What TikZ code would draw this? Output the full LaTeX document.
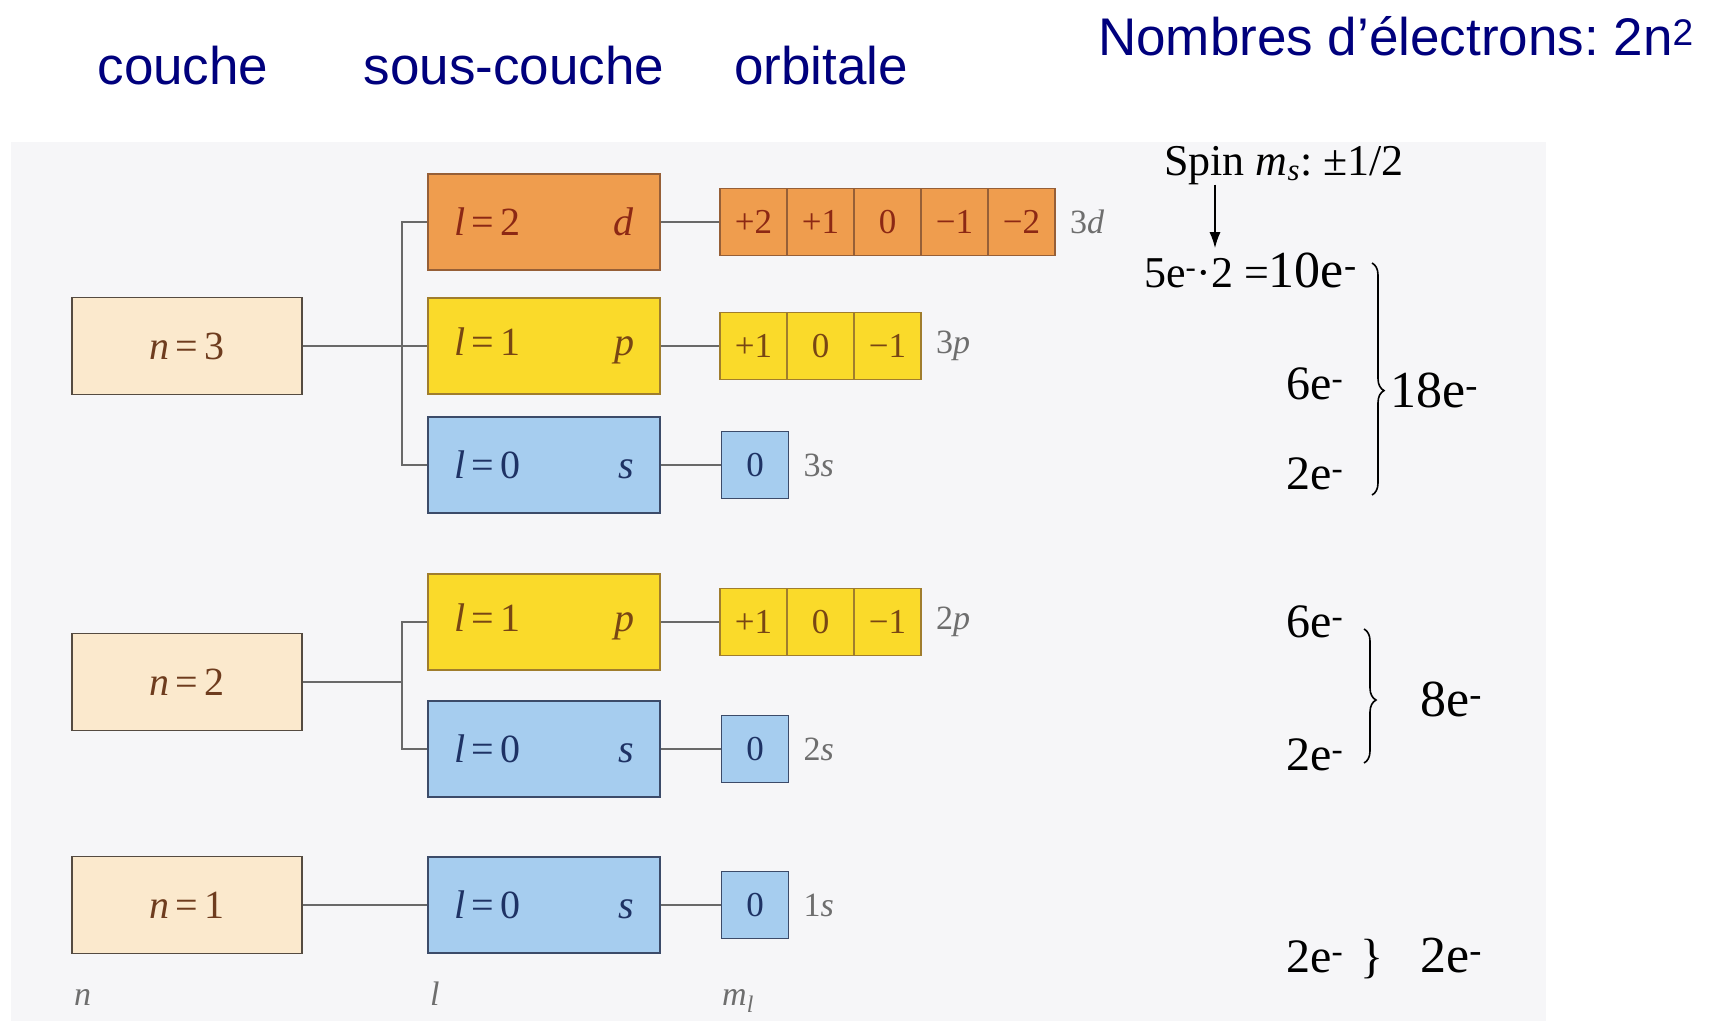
\documentclass[tikz,border=0pt]{standalone}
\usepackage{fontspec}
\setmainfont{Liberation Serif}
\newfontfamily\headfont{Liberation Sans}
\usetikzlibrary{arrows.meta, positioning, decorations.pathreplacing}
\frenchspacing
\definecolor{headblue}{RGB}{0,0,125}
\definecolor{paper}{RGB}{246,246,248}
\definecolor{shellfill}{RGB}{251,233,205}
\definecolor{shellline}{RGB}{85,75,65}
\definecolor{shelltext}{RGB}{110,60,30}
\definecolor{dfill}{RGB}{239,157,78}
\definecolor{dline}{RGB}{150,95,55}
\definecolor{dtext}{RGB}{140,40,20}
\definecolor{pfill}{RGB}{250,218,42}
\definecolor{pline}{RGB}{160,125,45}
\definecolor{ptext}{RGB}{120,70,20}
\definecolor{sfill}{RGB}{166,205,239}
\definecolor{sline}{RGB}{60,75,105}
\definecolor{stext}{RGB}{30,50,100}
\definecolor{linkgray}{RGB}{105,105,105}
\definecolor{taggray}{RGB}{110,110,110}
\newcommand{\subtxt}[2]{\makebox[180pt]{\textit{l}\,=\,#1\hfill\textit{#2}}}
\newcommand{\elec}{e\textsuperscript{-}}
\tikzset{
  qn shell/.style={
    rectangle, draw=shellline, fill=shellfill, line width=1.6pt,
    minimum width=230pt, minimum height=97pt, inner sep=0pt,
    text=shelltext, font=\fontsize{40}{46}\selectfont
  },
  qn sub/.style={
    rectangle, line width=1.6pt, minimum width=232pt, minimum height=96pt,
    inner sep=0pt, font=\fontsize{40}{46}\selectfont
  },
  qn cell/.style={
    rectangle, line width=1.6pt, minimum width=67pt, minimum height=67pt,
    inner sep=0pt, font=\fontsize{35}{40}\selectfont
  },
  qn d/.style={draw=dline, fill=dfill, text=dtext},
  qn p/.style={draw=pline, fill=pfill, text=ptext},
  qn s/.style={draw=sline, fill=sfill, text=stext},
  qn link/.style={draw=linkgray, line width=1.8pt},
  qn tag/.style={
    text=taggray, font=\fontsize{34}{38}\selectfont, inner sep=0pt
  },
  qn head/.style={
    text=headblue, font=\headfont\fontsize{53}{60}\selectfont, inner sep=0pt
  },
  qn count/.style={
    font=\fontsize{48}{54}\selectfont, inner sep=0pt, anchor=base west
  },
  qn total/.style={
    font=\fontsize{52}{58}\selectfont, inner sep=0pt, anchor=base west
  },
  qn brace/.style={
    decorate, decoration={brace, amplitude=12pt, aspect=#1}, line width=1.6pt
  },
  qn arrow/.style={
    -{Latex[length=16pt, width=11pt]}, line width=1.6pt
  }
}

\begin{document}
\begin{tikzpicture}[x=1pt, y=-1pt, node distance=14pt]
  \useasboundingbox (0,0) rectangle (1716,1021);
  \fill[white] (0,0) rectangle (1716,1021);
  \fill[paper] (11,142) rectangle (1546,1021);

  % en-tetes
  \node[qn head, anchor=base] (hcouche) at (183,84) {couche};
  \node[qn head, anchor=base] (hsous) at (514,84) {sous-couche};
  \node[qn head, anchor=base] (horb) at (821,84) {orbitale};
  \node[qn head, anchor=base east] (hnb) at (1694,55) {Nombres d’électrons: 2n\textsuperscript{2}};

  % couches
  \node[qn shell] (n3) at (187,346) {\textit{n}\,=\,3};
  \node[qn shell] (n2) at (187,682) {\textit{n}\,=\,2};
  \node[qn shell] (n1) at (187,905) {\textit{n}\,=\,1};

  % sous-couches
  \node[qn sub, qn d] (l32) at (544,222) {\subtxt{2}{d}};
  \node[qn sub, qn p] (l31) at (544,346) {\subtxt{1}{p}};
  \node[qn sub, qn s] (l30) at (544,465) {\subtxt{0}{s}};
  \node[qn sub, qn p] (l21) at (544,622) {\subtxt{1}{p}};
  \node[qn sub, qn s] (l20) at (544,749) {\subtxt{0}{s}};
  \node[qn sub, qn s] (l10) at (544,905) {\subtxt{0}{s}};

  % orbitales
  \foreach \v [count=\i] in {+2,+1,0,−1,−2}
    \node[qn cell, qn d] (o3d\i) at ({720+67*\i-33.5},222) {\v};
  \foreach \v [count=\i] in {+1,0,−1}
    \node[qn cell, qn p] (o3p\i) at ({720+67*\i-33.5},346) {\v};
  \node[qn cell, qn s] (o3s1) at (755,465) {0};
  \foreach \v [count=\i] in {+1,0,−1}
    \node[qn cell, qn p] (o2p\i) at ({720+67*\i-33.5},622) {\v};
  \node[qn cell, qn s] (o2s1) at (755,749) {0};
  \node[qn cell, qn s] (o1s1) at (755,905) {0};

  \node[qn tag, right=of o3d5] (t3d) {3\textit{d}};
  \node[qn tag, right=of o3p3] (t3p) {3\textit{p}};
  \node[qn tag, right=of o3s1] (t3s) {3\textit{s}};
  \node[qn tag, right=of o2p3] (t2p) {2\textit{p}};
  \node[qn tag, right=of o2s1] (t2s) {2\textit{s}};
  \node[qn tag, right=of o1s1] (t1s) {1\textit{s}};

  \node[qn tag, anchor=base west] (vn) at (74,1005) {\textit{n}};
  \node[qn tag, anchor=base west] (vl) at (430,1005) {\textit{l}};
  \node[qn tag, anchor=base west] (vm) at (722,1005) {\textit{m}\textsubscript{\textit{l}}};

  % liaisons
  \coordinate (j3) at (402,346);
  \coordinate (j2) at (402,682);
  \draw[qn link] (n3) -- (l31);
  \draw[qn link] (l32.west) -- (l32.west -| j3) -- (l30.west -| j3) -- (l30.west);
  \draw[qn link] (n2) -- (j2);
  \draw[qn link] (l21.west) -- (l21.west -| j2) -- (l20.west -| j2) -- (l20.west);
  \draw[qn link] (n1) -- (l10);
  \draw[qn link] (l32) -- (o3d1);
  \draw[qn link] (l31) -- (o3p1);
  \draw[qn link] (l30) -- (o3s1);
  \draw[qn link] (l21) -- (o2p1);
  \draw[qn link] (l20) -- (o2s1);
  \draw[qn link] (l10) -- (o1s1);

  % nombres d'electrons
  \node[font=\fontsize{44}{50}\selectfont, inner sep=0pt, anchor=base] (spin) at (1284,175) {Spin \textit{m}\textsubscript{\textit{s}}: ±1/2};
  \node[inner sep=0pt, anchor=base west] (e3d) at (1144,287) {\fontsize{44}{50}\selectfont 5\elec·2 =\fontsize{52}{58}\selectfont 10\elec};
  \coordinate (arr) at (1215,0);
  \draw[qn arrow] (spin.south -| arr) -- ([yshift=4pt]e3d.north -| arr);

  \node[qn count] (e3p) at (1286,399) {6\elec};
  \node[qn count] (e3s) at (1286,489) {2\elec};
  \node[qn total] (e3) at (1390,407) {18\elec};
  \coordinate (b3a) at (1372,263);
  \coordinate (b3b) at (1372,495);
  \draw[qn brace=0.55] (b3a) -- (b3b);

  \node[qn count] (e2p) at (1286,637) {6\elec};
  \node[qn count] (e2s) at (1286,770) {2\elec};
  \node[qn total] (e2) at (1420,716) {8\elec};
  \coordinate (b2a) at (1364,629);
  \coordinate (b2b) at (1364,763);
  \draw[qn brace=0.53] (b2a) -- (b2b);

  \node[qn count] (e1s) at (1286,972) {2\elec};
  \node[qn count] (b1) at (1360,972) {\}};
  \node[qn total] (e1) at (1420,972) {2\elec};
\end{tikzpicture}
\end{document}
